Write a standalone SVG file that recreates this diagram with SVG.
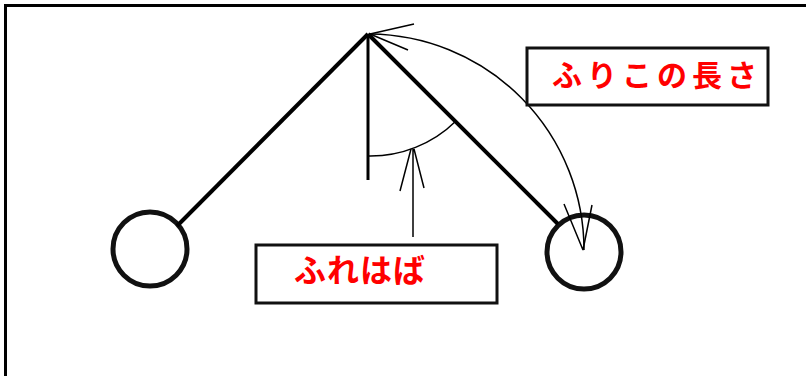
<svg xmlns="http://www.w3.org/2000/svg" width="806" height="376" viewBox="0 0 806 376">
<style>
.frame{fill:none;stroke:#000;stroke-width:3}
.rod{stroke:#000;stroke-width:4;fill:none}
.bob{fill:#fff;stroke:#111;stroke-width:5}
.thin{stroke:#000;stroke-width:1.5;fill:none}
.box{fill:#fff;stroke:#111;stroke-width:3}
.lbl{fill:#ff0000;font-family:"Noto Sans CJK JP","Noto Sans CJK SC",sans-serif;font-weight:bold}
</style>
<rect width="806" height="376" fill="#fff"/>
<path class="frame" d="M5.5,380 V5.5 H810"/>
<g id="bob-left"><circle class="bob" cx="150" cy="249" r="37"/></g>
<g id="bob-right"><circle class="bob" cx="584" cy="252" r="37"/></g>
<g id="connectors">
<line class="rod" x1="368" y1="34" x2="177" y2="226"/>
<line class="rod" x1="368" y1="34" x2="558" y2="224"/>
<line x1="368" y1="34" x2="368" y2="180" stroke="#000" stroke-width="3"/>
<path class="thin" d="M368,156 A122,122 0 0 0 456,121"/>
<path class="thin" d="M413,237 V149 M411,149 L400,191 M414,149 L424,188"/>
<path class="thin" d="M370,34 A216,216 0 0 1 584,250"/>
<path class="thin" d="M370,34 L414,24 M370,34 L408,50"/>
<path class="thin" d="M583,250 L564,204 M583,250 L592,205"/>
</g>
<g id="label-length">
<rect class="box" x="527" y="48" width="241" height="57"/>
<text class="lbl" x="552" y="86" font-size="30" letter-spacing="5">ふりこの長さ</text>
</g>
<g id="label-amplitude">
<rect class="box" x="256" y="245" width="241" height="58"/>
<text class="lbl" x="294" y="282" font-size="32" letter-spacing="1">ふれはば</text>
</g>
</svg>
